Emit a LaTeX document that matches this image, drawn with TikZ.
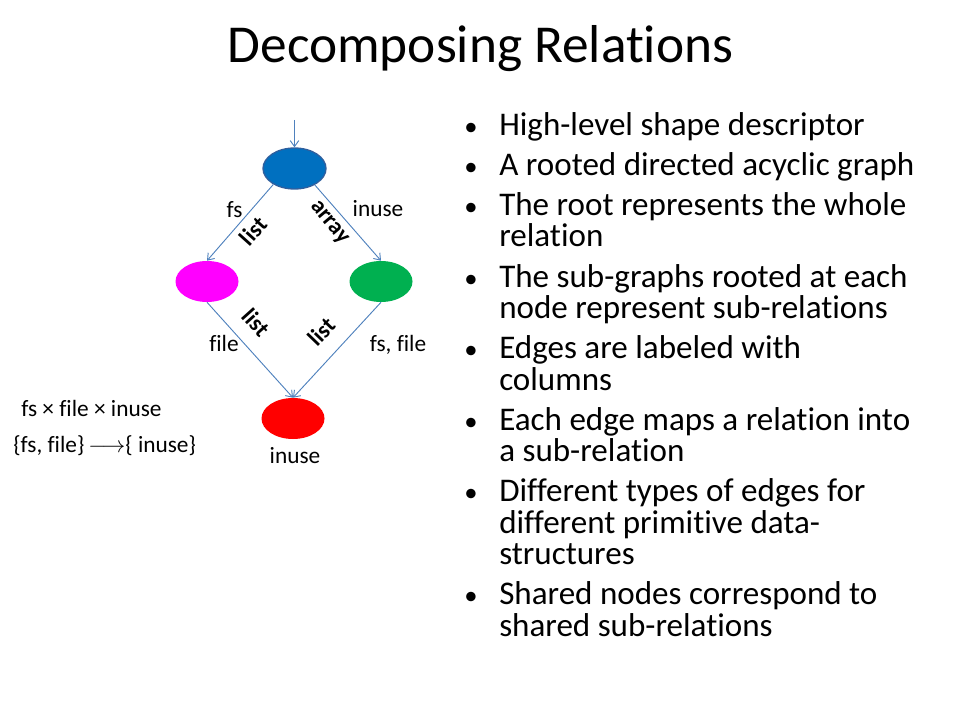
\documentclass[tikz,border=0pt]{standalone}
\usepackage{fontspec}
\setmainfont[Ligatures=NoCommon]{Carlito}
\usetikzlibrary{arrows.meta,shapes.geometric}

\definecolor{rootblue}{HTML}{0070C0}
\definecolor{rootline}{HTML}{2F5F9E}
\definecolor{fsmagenta}{HTML}{FF00FF}
\definecolor{arraygreen}{HTML}{00B050}
\definecolor{leafred}{HTML}{FF0000}
\definecolor{edgeblue}{HTML}{4F81BD}

\tikzset{
    relnode/.style={ellipse, minimum width=47.25pt, minimum height=30.75pt, inner sep=0pt},
    edgeline/.style={draw=edgeblue, line width=0.7pt, -{Straight Barb[length=4.5pt,width=6.5pt]}},
    collabel/.style={font=\fontsize{17.5}{20}\selectfont, inner sep=0pt, anchor=base},
    kindlabel/.style={font=\fontsize{17.5}{20}\selectfont\bfseries, inner sep=0pt},
    bulletdot/.style={font=\fontsize{20}{24}\selectfont, inner sep=0pt, anchor=base},
    bullettext/.style={font=\fontsize{24.8}{23.6}\selectfont, inner sep=0pt, anchor=base west, align=left},
}

\begin{document}
\begin{tikzpicture}[x=0.75pt, y=-0.75pt]
    \useasboundingbox (0,0) rectangle (960,720);

    \node[font=\fontsize{40}{48}\selectfont, anchor=base, inner sep=0pt] (title) at (480.5,63) {Decomposing Relations};

    % shape descriptor graph
    \coordinate (entry) at (294.5,120);
    \node[relnode, fill=rootblue, draw=rootline, line width=1pt] (root) at (294.5,168.5) {};
    \node[relnode, fill=fsmagenta] (fsnode) at (207,281.5) {};
    \node[relnode, fill=arraygreen] (inusenode) at (381,281.5) {};
    \node[relnode, fill=leafred] (leaf) at (293,418.5) {};

    \draw[edgeline] (entry) -- (root.north);
    \draw[edgeline] (root.217) -- (fsnode.north);
    \draw[edgeline] (root.321) -- (inusenode.north);
    \draw[edgeline] (fsnode.south) -- (leaf.north);
    \draw[edgeline] (inusenode.south) -- (leaf.north);

    \node[kindlabel, rotate=48] (kindfs) at (253,231) {list};
    \node[kindlabel, rotate=-50] (kindinuse) at (329,223) {array};
    \node[kindlabel, rotate=-48] (kindfile) at (256,322.5) {list};
    \node[kindlabel, rotate=46] (kindfsfile) at (321.5,331.5) {list};

    \node[collabel] (colfs) at (234.5,218) {fs};
    \node[collabel] (colinuse) at (378,217) {inuse};
    \node[collabel] (colfile) at (224,351.5) {file};
    \node[collabel] (colfsfile) at (398,351.5) {fs, file};
    \node[collabel] (colleaf) at (295,463) {inuse};

    \node[collabel, anchor=base west] (product) at (21,416) {fs × file × inuse};
    \node[collabel, anchor=base west] (mapping) at (13,452) {\{fs, file\}\,$\longrightarrow$\{ inuse\}};

    % bullets (text nodes sit on the baseline of their last line)
    \node[bulletdot] (dot1) at (471,135.5) {•};
    \node[bullettext] (item1) at (499,135.5) {High-level shape descriptor};
    \node[bulletdot] (dot2) at (471,175.5) {•};
    \node[bullettext] (item2) at (499,175.5) {A rooted directed acyclic graph};
    \node[bulletdot] (dot3) at (471,215.5) {•};
    \node[bullettext] (item3) at (499,247) {The root represents the whole\\relation};
    \node[bulletdot] (dot4) at (471,287) {•};
    \node[bullettext] (item4) at (499,318.5) {The sub-graphs rooted at each\\node represent sub-relations};
    \node[bulletdot] (dot5) at (471,358.5) {•};
    \node[bullettext] (item5) at (499,390) {Edges are labeled with\\columns};
    \node[bulletdot] (dot6) at (471,430) {•};
    \node[bullettext] (item6) at (499,461.5) {Each edge maps a relation into\\a sub-relation};
    \node[bulletdot] (dot7) at (471,501.5) {•};
    \node[bullettext] (item7) at (499,564.5) {Different types of edges for\\different primitive data-\\structures};
    \node[bulletdot] (dot8) at (471,604.5) {•};
    \node[bullettext] (item8) at (499,636) {Shared nodes correspond to\\shared sub-relations};

\end{tikzpicture}
\end{document}
